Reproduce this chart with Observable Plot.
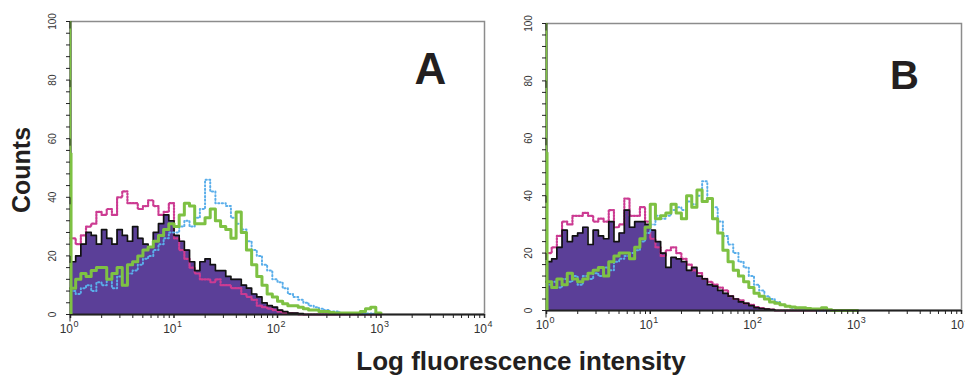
<!DOCTYPE html>
<html><head><meta charset="utf-8">
<script src="https://cdn.jsdelivr.net/npm/d3@7"></script>
<script src="https://cdn.jsdelivr.net/npm/@observablehq/plot@0.6"></script>
<style>
body{margin:0;background:#fff;}
#wrap{position:relative;width:965px;height:379px;overflow:hidden;font-family:"Liberation Sans",Arial,sans-serif;}
.panel{position:absolute;top:0;}
#ylab{position:absolute;left:21px;top:170px;transform:translate(-50%,-50%) rotate(-90deg);font-weight:bold;font-size:25px;white-space:nowrap;line-height:1;color:#231f20;}
#xlab{position:absolute;left:521px;top:348px;transform:translateX(-50%);font-weight:bold;font-size:26px;white-space:nowrap;line-height:1;color:#231f20;}
</style></head>
<body><div id="wrap">
<div id="ylab">Counts</div>
<div id="xlab">Log fluorescence intensity</div>
</div>
<script>
// channel width in decades (histogram bins start at 10^0)
const STEP = 0.05;
const firstChannelCount = 100;   // clipped pile-up in channel 0
const greenSecondChannel = {log: 0.012, count: 55};

// Panel A
const aPurple = [18,20,24,28,27,24,29,26,24,29,27,25,30,26,24,23,28,31,34,32,27,25,22,18,15,18,19,17,15,15,13,12,12,10,9,7,6,4,3,2.5,1.5,1,0.5,0.5,0.3,0,0,0,0,0,0,0,0,0,0,0,0,0,0,0];
const aMagenta = [26,24,27,30,31,35,34,36,34,40,42,38,38,36,37,39,37,34,35,38,26,22,19,16,14,12,12,11,12,10,10,9,9,7,6,5,3,2.5,2,1.5,1,0.5,0.5,0.3,0,0,0,0,0,0,0,0,0,0,0,0,0,0,0,0];
const aGreen = [9,12,14,13,15,16,16,12,14,16,10,17,18,20,22,23,25,27,29,31,30,34,38,37,31,31,33,36,32,30,29,26,35,28,22,17,13,10,7,6,4.5,3.7,3,3,2.5,2,1.5,1.5,1,1,0.7,0.5,0.5,0.5,0.5,0.5,1,2,2.5,0.5];
const aBlue = [8,7,9,10,8,11,10,12,9,13,10,14,15,17,19,20,22,24,26,28,28,30,32,30,33,36,46,42,38,38,37,33,31,29,25,22,20,17,15,12,11,9,7,6,5,4,3,2.5,2,1.5,1,1,0.5,0.5,0.5,0.5,0.5,0.3,0.3,0.3];

// Panel B
const bPurple = [17,18,22,28,24,26,27,29,23,28,26,25,31,24,27,35,29,31,31,30,28,24,20,15,18.5,18,17,14,15,12,11,9,8.5,7,6,5,4,3,2.5,1.7,1,0.7,0.5,0.3,0,0,0,0,0,0,0,0,0,0,0,0,0,0,0,0];
const bMagenta = [20,22,26,31,30,33,33,34,33,31,32,31,35,29,30,39,33,33,36,31,25,22,19,21,22,20,18,16,14,13,11,10,9,8,7,5,4,3.5,2.5,2,1.2,0.8,0.5,0.3,0,0,0,0,0,0,0,0,0,0,0,0,0,0,0,0];
const bGreen = [10,8,11,9,13,11,10,11,13,14,15,12,17,19,20,20,18,22,25,29,37,32,33,34,37,34,32,40,36,42,38,39,32,27,21,17,14,12,10,8,6,5,4,3,2.5,2,1.5,1.2,1,1,0.7,0.5,0.5,1,0.3,0,0,0,0,0];
const bBlue = [9,10,8,11,10,12,9,12,11,13,12,15,14,17,18,19,20,21,24,27,30,33,32,33,35,36,35,38,37,40,45,39,36,31,26,23,20,17,15,12,9,7,5,4,3,2,1.5,1,1,0.7,0.5,0.5,0,0,0,0,0,0,0,0];

const yMajor = [0,20,40,60,80,100];
const yMinor = d3.range(0,101,4);
const decades = [1,10,100,1000,10000];
const xMinor = decades.slice(0,4).flatMap(d => [2,3,4,5,6,7,8,9].map(k => k*d));

const COLORS = {purple:"#5b3f98", magenta:"#cc3b92", green:"#7ec143", blue:"#5aaeea", black:"#111"};

function rows(vals){ return vals.map((v,i)=>({x1:10**(i*STEP), x2:10**((i+1)*STEP), y:v})); }
function stepLine(vals){ const r = rows(vals); return [...r.map(d=>({x:d.x1,y:d.y})), {x:r[r.length-1].x2, y:r[r.length-1].y}]; }

function panel(o){
  const fs = "Liberation Sans, Arial, sans-serif";
  return Plot.plot({
    width:o.width, height:345,
    marginLeft:o.ml, marginRight:o.mr, marginTop:o.mt, marginBottom:345-o.bottom,
    style:{background:"transparent", overflow:"visible", fontFamily:fs},
    x:{type:"log", domain:[1,1e4], axis:null},
    y:{domain:[0,100], axis:null},
    marks:[
      Plot.frame({stroke:"#8c8c8c", strokeWidth:1.5}),
      Plot.areaY(stepLine(o.purple), {x:"x", y:"y", curve:"step-after", fill:COLORS.purple}),
      Plot.line(stepLine(o.magenta), {x:"x", y:"y", curve:"step-after", stroke:COLORS.magenta, strokeWidth:2.2, strokeDasharray:"1.5,1.5"}),
      Plot.line(stepLine(o.purple), {x:"x", y:"y", curve:"step-after", stroke:COLORS.black, strokeWidth:1.7}),
      Plot.line(stepLine(o.blue), {x:"x", y:"y", curve:"step-after", stroke:COLORS.blue, strokeWidth:2, strokeDasharray:"1.2,2.4"}),
      Plot.line(stepLine(o.green), {x:"x", y:"y", curve:"step-after", stroke:COLORS.green, strokeWidth:3}),
      Plot.ruleY([0], {stroke:"#222", strokeWidth:2}),
      Plot.ruleX([1], {stroke:"#222", strokeWidth:2}),
      Plot.ruleX([1], {y1:0, y2:firstChannelCount, stroke:COLORS.green, strokeWidth:1.6}),
      Plot.ruleX([10**greenSecondChannel.log], {y1:0, y2:greenSecondChannel.count, stroke:COLORS.green, strokeWidth:1.6}),
      Plot.axisY({ticks:yMinor, tickSize:4, tickFormat:()=>"", label:null, stroke:"#222"}),
      Plot.axisY({ticks:yMajor, tickSize:7, tickPadding:11, rotate:-90, textAnchor:"middle", fontSize:10, label:null, fill:"#333", stroke:"#222"}),
      Plot.axisX({ticks:xMinor, tickSize:4, tickFormat:()=>"", label:null, stroke:"#222"}),
      Plot.axisX({ticks:decades, tickSize:4, tickFormat:()=>"", label:null, stroke:"#222", strokeWidth:1.5}),
      Plot.text(decades, {x:d=>d, frameAnchor:"bottom", text:()=>"10", textAnchor:"end", dx:2.5, dy:18, fontSize:12, fill:"#333"}),
      Plot.text(decades, {x:d=>d, frameAnchor:"bottom", text:d=>String(Math.round(Math.log10(d))), textAnchor:"start", dx:3, dy:12, fontSize:9, fill:"#333"}),
      Plot.text([o.letter], {frameAnchor:"top-right", text:d=>d, textAnchor:"middle", lineAnchor:"top", dx:o.ldx, dy:o.ldy, fontSize:o.lfs, fontWeight:"bold", fill:"#231f20"})
    ]
  });
}

const wrap = document.getElementById("wrap");
const A = panel({width:492, ml:70, mr:8, mt:21, bottom:314, purple:aPurple, magenta:aMagenta, green:aGreen, blue:aBlue, letter:"A", ldx:-54, ldy:31, lfs:44});
A.classList.add("panel"); A.style.left = "0px";
const B = panel({width:485, ml:66, mr:4, mt:23, bottom:310, purple:bPurple, magenta:bMagenta, green:bGreen, blue:bBlue, letter:"B", ldx:-57, ldy:37, lfs:40});
B.classList.add("panel"); B.style.left = "480px";
wrap.appendChild(A); wrap.appendChild(B);
</script>
</body></html>
